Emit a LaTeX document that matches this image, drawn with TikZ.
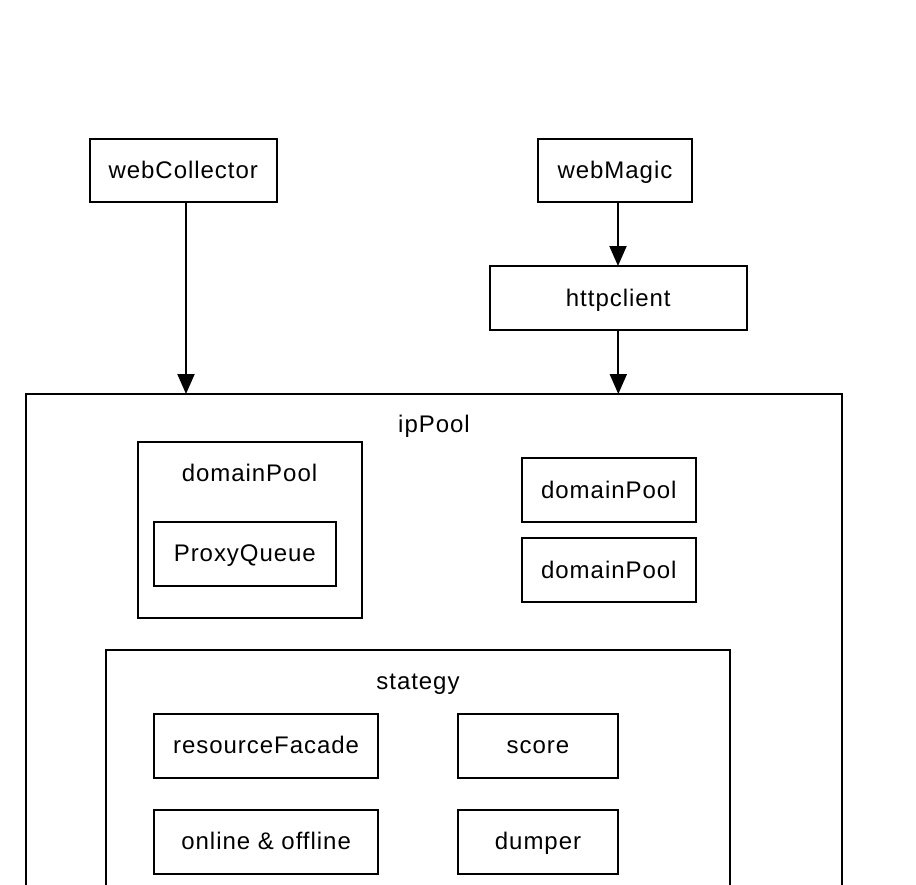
\documentclass[tikz,border=0pt]{standalone}
\usepackage{fontspec}
\setmainfont{Liberation Sans}[LetterSpace=4]
\usetikzlibrary{arrows.meta}
\tikzset{
  boxnode/.style={draw=black, line width=2pt, inner sep=0pt, outer sep=0pt,
    text height=16pt, text depth=0pt, font=\fontsize{24}{28}\selectfont},
  lbl/.style={inner sep=0pt, anchor=base, font=\fontsize{24}{28}\selectfont},
  arr/.style={line width=2pt, -{Triangle[length=20pt,width=17pt]}}
}
\begin{document}
\begin{tikzpicture}[x=1pt,y=-1pt]
\useasboundingbox (0,0) rectangle (916,884);
\clip (0,0) rectangle (916,884);
% top nodes
\node[boxnode, minimum width=187.5pt, minimum height=63pt] (webCollector) at (183.25,170) {webCollector};
\node[boxnode, minimum width=153.4pt, minimum height=63pt] (webMagic) at (615,170) {webMagic};
\node[boxnode, minimum width=256.7pt, minimum height=64pt] (httpclient) at (618.3,298) {httpclient};
% ipPool container
\node[boxnode, minimum width=816pt, minimum height=566pt] (ipPool) at (433.7,677) {};
\node[lbl] (ipPoolLabel) at (434,432.7) {ipPool};
% domainPool container
\node[boxnode, minimum width=224.6pt, minimum height=175.7pt] (domainPoolA) at (250,529.85) {};
\node[lbl] (domainPoolALabel) at (249.5,481.7) {domainPool};
\node[boxnode, minimum width=181.7pt, minimum height=64pt] (proxyQueue) at (244.85,553.7) {ProxyQueue};
\node[boxnode, minimum width=174.3pt, minimum height=63.4pt] (domainPoolB) at (608.85,490) {domainPool};
\node[boxnode, minimum width=174.3pt, minimum height=64.3pt] (domainPoolC) at (608.85,570.15) {domainPool};
% stategy container
\node[boxnode, minimum width=624.5pt, minimum height=270pt] (stategy) at (417.75,785) {};
\node[lbl] (stategyLabel) at (418,689.5) {stategy};
\node[boxnode, minimum width=224.3pt, minimum height=63.7pt] (resourceFacade) at (266.15,745.85) {resourceFacade};
\node[boxnode, minimum width=160pt, minimum height=63.7pt] (score) at (538,745.85) {score};
\node[boxnode, minimum width=224.3pt, minimum height=63.7pt] (online) at (266.15,841.65) {online \& offline};
\node[boxnode, minimum width=160pt, minimum height=63.7pt] (dumper) at (538,841.65) {dumper};
% connectors
\draw[arr] ([xshift=2.75pt]webCollector.south) -- ([xshift=2.75pt]webCollector.south |- ipPool.north);
\draw[arr] ([xshift=3pt]webMagic.south) -- ([xshift=3pt]webMagic.south |- httpclient.north);
\draw[arr] (httpclient.south) -- (httpclient.south |- ipPool.north);
\end{tikzpicture}
\end{document}
